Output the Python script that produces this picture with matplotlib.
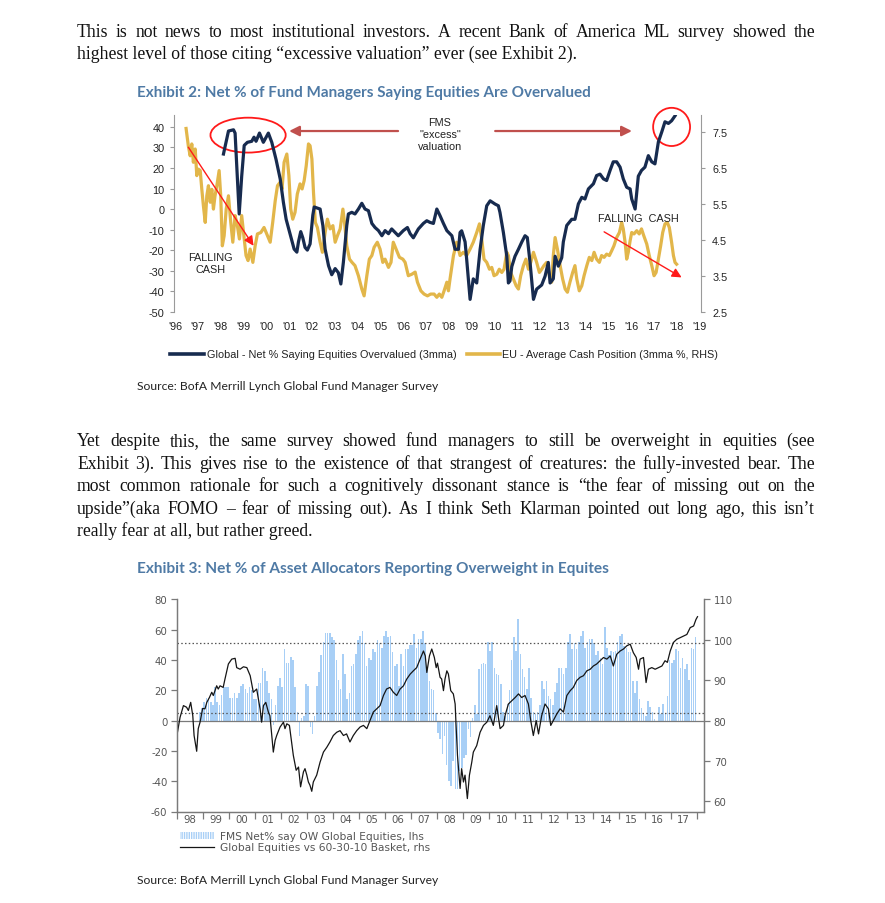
import matplotlib
matplotlib.use("Agg")
import numpy as np
import matplotlib.pyplot as plt
from matplotlib import font_manager
from matplotlib.patches import Ellipse, Rectangle
from matplotlib.lines import Line2D

W, H = 885, 904

# ---------------- page text ----------------
para1 = [
    "This is not news to most institutional investors. A recent Bank of America ML survey showed the",
    "highest level of those citing \u201cexcessive valuation\u201d ever (see Exhibit 2).",
]
para2 = [
    "Yet despite this, the same survey showed fund managers to still be overweight in equities (see",
    "Exhibit 3). This gives rise to the existence of that strangest of creatures: the fully-invested bear. The",
    "most common rationale for such a cognitively dissonant stance is \u201cthe fear of missing out on the",
    "upside\u201d(aka FOMO \u2013 fear of missing out). As I think Seth Klarman pointed out long ago, this isn\u2019t",
    "really fear at all, but rather greed.",
]
title2 = "Exhibit 2: Net % of Fund Managers Saying Equities Are Overvalued"
title3 = "Exhibit 3: Net % of Asset Allocators Reporting Overweight in Equites"
source = "Source: BofA Merrill Lynch Global Fund Manager Survey"

# ---------------- Exhibit 2 data ----------------
years2 = list(range(1996, 2020))
year2_labels = ["'%02d" % (y % 100) for y in years2]
left2_ticks = [40, 30, 20, 10, 0, -10, -20, -30, -40, -50]
right2_ticks = [7.5, 6.5, 5.5, 4.5, 3.5, 2.5]

# Global - net % saying equities overvalued (3mma), lhs
glob = [
    (1998.12, 26.8), (1998.34, 38), (1998.56, 38.6), (1998.63, 37), (1998.81, -2.4),
    (1998.92, 16), (1999.03, 31), (1999.17, 32.5), (1999.36, 33), (1999.46, 35),
    (1999.55, 33), (1999.70, 37), (1999.87, 32.5), (2000.09, 37), (2000.24, 32.5),
    (2000.43, 24), (2000.61, 14.6), (2000.75, 3.2), (2000.87, -5), (2001.04, -12),
    (2001.22, -19.5), (2001.34, -21), (2001.41, -16), (2001.51, -11), (2001.60, -14),
    (2001.70, -18.7), (2001.80, -20), (2001.92, -17), (2002.04, -3), (2002.10, 1),
    (2002.36, 0), (2002.48, -8), (2002.58, -19.5), (2002.73, -27.6), (2002.87, -32),
    (2003.02, -29), (2003.16, -31), (2003.27, -36.5), (2003.38, -26), (2003.53, -8),
    (2003.60, -2.4), (2003.75, -1.6), (2003.89, -2.4), (2004.04, 0), (2004.19, 2.8),
    (2004.33, 0), (2004.48, -0.8), (2004.63, -7), (2004.77, -9), (2004.92, -10.5),
    (2005.07, -13), (2005.21, -10.5), (2005.36, -12), (2005.50, -9.7), (2005.65, -11.4),
    (2005.79, -13), (2006.01, -10.5), (2006.19, -9), (2006.31, -12), (2006.45, -14),
    (2006.67, -9.7), (2006.89, -7), (2007.04, -5.7), (2007.18, -6.5), (2007.33, -7),
    (2007.48, 0), (2007.62, -3.2), (2007.77, -7), (2007.92, -10.5), (2008.14, -13),
    (2008.28, -19.6), (2008.43, -19.6), (2008.50, -11.4), (2008.57, -10.6), (2008.72, -16),
    (2008.79, -24.5), (2008.94, -44), (2009.08, -34), (2009.23, -36), (2009.38, -19.6),
    (2009.52, -8), (2009.67, 1.6), (2009.82, 4), (2010.04, 2.4), (2010.18, 1.6),
    (2010.25, -1.6), (2010.40, -11.4), (2010.55, -23), (2010.62, -36), (2010.69, -35),
    (2010.77, -28), (2010.91, -23), (2011.06, -19.6), (2011.21, -16), (2011.35, -13),
    (2011.45, -13.9), (2011.57, -26), (2011.72, -44), (2011.86, -39), (2012.08, -37),
    (2012.23, -32.7), (2012.37, -26), (2012.45, -36), (2012.59, -34), (2012.67, -23),
    (2012.81, -27.8), (2012.96, -23.7), (2013.03, -16), (2013.18, -8), (2013.40, -5),
    (2013.54, -5), (2013.69, 2.5), (2013.84, 5.7), (2013.98, 4.9), (2014.13, 9.8),
    (2014.35, 12.3), (2014.49, 16.3), (2014.64, 17), (2014.79, 14.7), (2014.93, 13.9),
    (2015.08, 18.8), (2015.22, 23), (2015.37, 23), (2015.52, 20.4), (2015.66, 14.7),
    (2015.81, 10.6), (2015.96, 9.8), (2016.03, 4.9), (2016.18, 0), (2016.25, 8),
    (2016.32, 16), (2016.46, 18.8), (2016.61, 20.4), (2016.76, 26), (2016.91, 23),
    (2017.05, 22), (2017.20, 32.7), (2017.35, 37.6), (2017.49, 42.5), (2017.64, 41.7),
    (2017.78, 43), (2017.93, 45.4),
]

# EU - average cash position (3mma %), rhs
cash = [
    (1996.48, 7.59), (1996.58, 7.10), (1996.66, 6.83), (1996.73, 7.16), (1996.80, 6.65),
    (1996.88, 7.02), (1996.95, 6.28), (1997.02, 6.46), (1997.10, 6.42), (1997.17, 5.90),
    (1997.24, 5.44), (1997.32, 4.98), (1997.39, 5.72), (1997.46, 6.00), (1997.54, 5.54),
    (1997.61, 5.90), (1997.68, 5.35), (1997.75, 5.72), (1997.83, 6.00), (1997.93, 6.42),
    (1998.00, 5.72), (1998.07, 4.33), (1998.15, 4.61), (1998.24, 5.35), (1998.34, 5.72),
    (1998.44, 4.98), (1998.53, 4.43), (1998.63, 5.17), (1998.73, 4.89), (1998.82, 4.52),
    (1998.92, 5.17), (1999.03, 4.52), (1999.11, 4.06), (1999.20, 3.92), (1999.29, 4.24),
    (1999.41, 3.87), (1999.51, 4.33), (1999.61, 4.66), (1999.76, 4.70), (1999.90, 4.84),
    (2000.02, 4.66), (2000.17, 4.43), (2000.28, 4.98), (2000.39, 5.58), (2000.49, 6.00),
    (2000.61, 6.10), (2000.69, 5.91), (2000.78, 6.65), (2000.90, 6.88), (2000.99, 6.28),
    (2001.07, 5.35), (2001.16, 5.07), (2001.26, 5.26), (2001.36, 5.77), (2001.48, 6.05),
    (2001.57, 5.91), (2001.66, 6.14), (2001.75, 6.55), (2001.85, 7.16), (2001.92, 7.11),
    (2002.00, 6.74), (2002.07, 5.81), (2002.15, 4.98), (2002.24, 4.84), (2002.36, 4.43),
    (2002.46, 4.15), (2002.58, 4.70), (2002.68, 5.07), (2002.80, 4.80), (2002.92, 4.89),
    (2003.02, 4.43), (2003.12, 4.61), (2003.24, 4.80), (2003.36, 5.35), (2003.44, 4.93),
    (2003.53, 4.33), (2003.65, 3.96), (2003.76, 3.87), (2003.89, 3.78), (2004.04, 3.50),
    (2004.19, 3.13), (2004.29, 2.94), (2004.41, 3.50), (2004.52, 3.96), (2004.63, 4.06),
    (2004.73, 4.29), (2004.87, 4.43), (2004.99, 4.24), (2005.11, 3.87), (2005.21, 3.96),
    (2005.36, 3.73), (2005.47, 3.87), (2005.57, 4.43), (2005.69, 4.24), (2005.84, 4.01),
    (2005.99, 3.96), (2006.09, 3.87), (2006.23, 3.50), (2006.38, 3.54), (2006.53, 3.60),
    (2006.63, 3.32), (2006.78, 3.08), (2006.92, 2.99), (2007.07, 2.94), (2007.21, 2.99),
    (2007.36, 2.99), (2007.48, 2.90), (2007.59, 2.99), (2007.70, 2.90), (2007.80, 3.08),
    (2007.92, 3.32), (2007.99, 3.08), (2008.06, 3.41), (2008.21, 4.06), (2008.35, 4.43),
    (2008.43, 4.24), (2008.50, 4.06), (2008.64, 4.15), (2008.79, 4.06), (2008.94, 4.24),
    (2009.08, 4.43), (2009.23, 4.70), (2009.35, 4.94), (2009.45, 4.52), (2009.55, 3.96),
    (2009.67, 3.87), (2009.79, 3.68), (2009.89, 3.73), (2009.99, 3.50), (2010.11, 3.54),
    (2010.22, 3.68), (2010.33, 3.59), (2010.43, 3.68), (2010.55, 4.15), (2010.62, 4.06),
    (2010.72, 3.59), (2010.84, 3.41), (2010.96, 3.22), (2011.06, 3.13), (2011.16, 3.50),
    (2011.28, 3.78), (2011.39, 3.96), (2011.50, 3.68), (2011.60, 3.87), (2011.72, 4.15),
    (2011.86, 3.87), (2011.98, 3.59), (2012.08, 3.68), (2012.18, 3.78), (2012.30, 3.87),
    (2012.42, 3.50), (2012.52, 3.32), (2012.59, 4.06), (2012.67, 4.56), (2012.77, 4.24),
    (2012.89, 3.78), (2013.00, 3.41), (2013.11, 3.13), (2013.21, 3.04), (2013.32, 3.32),
    (2013.44, 3.59), (2013.54, 3.78), (2013.62, 3.41), (2013.73, 3.08), (2013.84, 3.22),
    (2013.94, 3.50), (2014.06, 3.78), (2014.17, 4.01), (2014.28, 3.92), (2014.38, 4.15),
    (2014.49, 3.96), (2014.61, 3.87), (2014.71, 4.06), (2014.82, 4.01), (2014.93, 4.10),
    (2015.05, 4.06), (2015.15, 4.19), (2015.25, 4.33), (2015.37, 4.56), (2015.49, 4.70),
    (2015.59, 4.98), (2015.66, 4.80), (2015.74, 4.43), (2015.81, 3.96), (2015.88, 4.15),
    (2015.96, 4.47), (2016.03, 4.70), (2016.13, 4.66), (2016.25, 4.75), (2016.36, 4.66),
    (2016.46, 4.80), (2016.56, 4.61), (2016.69, 4.38), (2016.80, 4.06), (2016.91, 3.78),
    (2017.01, 3.50), (2017.10, 3.59), (2017.20, 3.96), (2017.30, 4.33), (2017.39, 4.70),
    (2017.49, 4.94), (2017.59, 4.98), (2017.68, 4.84), (2017.78, 4.43), (2017.86, 4.06),
    (2017.93, 3.87), (2018.00, 3.82),
]

# ---------------- Exhibit 3 data ----------------
years3 = list(range(1998, 2019))
year3_labels = ["%02d" % (y % 100) for y in range(1998, 2018)]
left3_ticks = [80, 60, 40, 20, 0, -20, -40, -60]
right3_ticks = [110, 100, 90, 80, 70, 60]
band_hi, band_lo = 51, 5   # dotted reference lines, lhs

# FMS net % say overweight global equities, monthly from Nov 1998, lhs
fms_first_month = 10   # months after Jan 1998
fms = [
    5.5, 8,                                                   # 1998
    12, 15, 15, 12, 10, 22, 12, 10, 17, 22, 22, 22,           # 1999
    15, 15, 18, 15, 18, 23, 24, 21, 18, 22, 20, 14,           # 2000
    14, 25, 25, 35, 33, 26, 18, 14, -3, 10, 23, 28,           # 2001
    22, 47, 38, 38, 42, 40, 22, 5.5, -10, 2, 3, 24,           # 2002
    23, -4, -9, 3, 23, 32, 43, 52, 58, 58, 58, 55,            # 2003
    53, 40, 27, 21, 44, 31, 14, 18, 36, 37, 44, 53,           # 2004
    56, 59, 51, 36, 41, 40, 47, 45, 53, 51, 48, 56,           # 2005
    59, 55, 56, 45, 36, 37, 23, 44, 36, 47, 47, 50,           # 2006
    50, 57, 48, 54, 54, 59, 51, 34, 26, 21, 20, 5,            # 2007
    -8, -12, -22, -10, -29, -40, -43, -27, -45, -45, -33, -31,  # 2008
    -25, -23, -5.5, -11, 2, 10, 4, 34, 37, 38, 37, 52,        # 2009
    46, 52, 35, 31, 30, 24, 5.5, 3, 11, 20, 40, 55,           # 2010
    46, 67, 44, 34, 29, 21, 35, 15, 5.5, 4, 5.5, 10,          # 2011
    26, 21, 26, 16, 14, 10, 19, 25, 35, 35, 31, 35,           # 2012
    52, 57, 47, 51, 47, 52, 56, 59, 48, 52, 54, 54,           # 2013
    51, 43, 46, 41, 37, 62, 48, 43, 46, 45, 46, 52,           # 2014
    56, 57, 49, 48, 45, 45, 26, 18, 26, 14, 8, 4,             # 2015
    3, 13, 9, 5.5, 1, -0.7, 9, 4, 11, 4, 16, 40,              # 2016
    38, 40, 47, 46, 35, 41, 34, 37, 27, 48, 47, 55,           # 2017
]

# Global equities vs 60-30-10 basket, rhs
equity = [
    (1998.01, 77.1), (1998.11, 80.8), (1998.24, 83.7), (1998.36, 83.3), (1998.43, 82.5),
    (1998.52, 84.5), (1998.60, 81.2), (1998.65, 76.3), (1998.75, 72.4), (1998.81, 78.0),
    (1998.88, 79.6), (1998.98, 83.0), (1999.07, 82.9), (1999.14, 84.5), (1999.24, 85.7),
    (1999.33, 87.0), (1999.39, 86.2), (1999.52, 88.6), (1999.58, 87.8), (1999.65, 88.6),
    (1999.77, 88.2), (1999.84, 90.3), (1999.97, 94.0), (2000.10, 95.2), (2000.23, 95.4),
    (2000.29, 93.1), (2000.42, 92.7), (2000.55, 93.3), (2000.68, 93.1), (2000.81, 91.1),
    (2000.93, 87.0), (2001.06, 87.8), (2001.19, 82.9), (2001.25, 79.6), (2001.32, 83.7),
    (2001.41, 84.5), (2001.51, 82.1), (2001.57, 81.2), (2001.64, 76.3), (2001.70, 72.2),
    (2001.77, 75.1), (2001.83, 76.3), (2001.96, 78.4), (2002.09, 79.6), (2002.15, 78.0),
    (2002.22, 79.2), (2002.32, 78.8), (2002.37, 76.3), (2002.47, 71.4), (2002.58, 67.7),
    (2002.67, 68.5), (2002.75, 63.6), (2002.86, 67.3), (2002.92, 68.1), (2002.99, 66.5),
    (2003.05, 64.8), (2003.11, 64.0), (2003.18, 62.5), (2003.24, 64.8), (2003.37, 66.5),
    (2003.50, 69.7), (2003.63, 72.2), (2003.76, 73.4), (2003.88, 74.7), (2004.01, 76.3),
    (2004.14, 77.1), (2004.27, 77.5), (2004.40, 76.3), (2004.52, 76.7), (2004.65, 74.7),
    (2004.78, 76.3), (2004.91, 77.5), (2005.04, 78.4), (2005.17, 78.8), (2005.30, 78.0),
    (2005.42, 80.0), (2005.55, 82.1), (2005.68, 82.9), (2005.81, 83.7), (2005.94, 86.2),
    (2006.06, 87.8), (2006.19, 88.2), (2006.32, 87.0), (2006.45, 86.2), (2006.58, 87.8),
    (2006.71, 88.6), (2006.84, 90.3), (2006.97, 91.5), (2007.09, 92.3), (2007.22, 93.1),
    (2007.35, 95.2), (2007.48, 97.2), (2007.55, 96.0), (2007.61, 91.9), (2007.71, 96.0),
    (2007.80, 97.7), (2007.90, 95.6), (2007.97, 93.1), (2008.02, 94.2), (2008.12, 90.7),
    (2008.18, 90.3), (2008.25, 87.4), (2008.31, 90.3), (2008.38, 92.3), (2008.44, 91.5),
    (2008.53, 87.4), (2008.63, 86.6), (2008.70, 84.1), (2008.73, 79.6), (2008.79, 71.4),
    (2008.82, 68.9), (2008.89, 63.2), (2008.95, 68.1), (2009.02, 64.8), (2009.08, 66.5),
    (2009.17, 60.7), (2009.25, 66.5), (2009.34, 69.7), (2009.40, 72.2), (2009.53, 73.8),
    (2009.66, 77.1), (2009.79, 78.8), (2009.92, 79.6), (2010.04, 81.2), (2010.17, 78.8),
    (2010.30, 83.7), (2010.43, 78.0), (2010.56, 78.8), (2010.62, 81.2), (2010.75, 84.1),
    (2010.88, 84.9), (2011.01, 85.7), (2011.14, 86.6), (2011.26, 85.7), (2011.39, 86.2),
    (2011.52, 84.1), (2011.61, 80.0), (2011.71, 76.3), (2011.82, 80.0), (2011.91, 76.7),
    (2012.03, 81.2), (2012.16, 84.1), (2012.29, 82.9), (2012.38, 78.8), (2012.48, 80.0),
    (2012.61, 81.6), (2012.74, 82.9), (2012.87, 82.1), (2013.00, 86.2), (2013.13, 87.4),
    (2013.25, 88.2), (2013.38, 89.9), (2013.51, 90.7), (2013.64, 91.1), (2013.77, 92.3),
    (2013.90, 92.7), (2014.02, 93.5), (2014.15, 94.0), (2014.28, 94.8), (2014.41, 95.6),
    (2014.54, 95.2), (2014.67, 96.0), (2014.79, 93.5), (2014.92, 96.4), (2015.05, 97.2),
    (2015.18, 97.7), (2015.31, 98.5), (2015.44, 98.9), (2015.56, 96.8), (2015.67, 95.6),
    (2015.76, 92.7), (2015.82, 95.2), (2015.95, 95.6), (2016.05, 89.4), (2016.14, 92.7),
    (2016.27, 93.1), (2016.40, 92.7), (2016.53, 93.1), (2016.66, 93.5), (2016.78, 94.8),
    (2016.87, 94.4), (2016.98, 97.2), (2017.10, 99.3), (2017.23, 100.1), (2017.36, 100.5),
    (2017.49, 100.9), (2017.62, 101.3), (2017.75, 103.0), (2017.88, 103.4), (2017.97, 105.0),
    (2018.03, 105.7),
]

# ---------------- style ----------------
NAVY = "#172b4f"
GOLD = "#e2b64a"
TITLE = "#4f7aa5"
BAR = "#a8cff6"
RED = "#ff1a1a"
BROWN = "#c0504d"

names = {f.name for f in font_manager.fontManager.ttflist}
NARROW = "Liberation Sans Narrow" if "Liberation Sans Narrow" in names else "Liberation Sans"
SERIF = "Liberation Serif"
CAL = "Lato" if "Lato" in names else "DejaVu Sans"
WIDE = "DejaVu Sans"

plt.rcParams["hatch.linewidth"] = 1.0
plt.rcParams["axes.unicode_minus"] = False
fig = plt.figure(figsize=(W / 100, H / 100), dpi=100)
renderer = fig.canvas.get_renderer()


def fx(px):
    return px / W


def fy(py):
    return 1 - py / H


def fit_text(x, y, s, width, **kw):
    t = fig.text(fx(x), fy(y), s, fontsize=10, va="baseline", **kw)
    w = t.get_window_extent(renderer).width
    t.set_fontsize(10 * width / w)
    return t


# body text size from the natural (unjustified) width of a short line
probe = fig.text(0, 0, para1[1], fontsize=12, family=SERIF)
body_size = 12 * 498 / probe.get_window_extent(renderer).width
probe.remove()
BODY = dict(family=SERIF, fontsize=body_size, color="#111111", va="baseline")


def paragraph(lines, y0, step, x0=77, x1=815):
    for i, line in enumerate(lines):
        y = y0 + i * step
        if i == len(lines) - 1:
            fig.text(fx(x0), fy(y), line, **BODY)
            continue
        words = line.split(" ")
        arts = [fig.text(0, fy(y), w, **BODY) for w in words]
        widths = [a.get_window_extent(renderer).width for a in arts]
        gap = (x1 - x0 - sum(widths)) / (len(words) - 1)
        x = x0
        for a, w in zip(arts, widths):
            a.set_x(fx(x))
            x += w + gap


paragraph(para1, 37, 21.5)
paragraph(para2, 446, 22.6)

fit_text(137, 96.5, title2, 456, family=CAL, weight="bold", color=TITLE)
fit_text(137, 573.5, title3, 470, family=CAL, weight="bold", color=TITLE)
fit_text(137, 390, source, 301, family=CAL, color="#222222")
fit_text(137, 884, source, 301, family=CAL, color="#222222")

# ---------------- Exhibit 2 ----------------
g = np.array(glob)
c = np.array(cash)
ax2 = fig.add_axes([fx(174), fy(312.7), (701 - 174) / W, (312.7 - 115.6) / H])
ax2r = ax2.twinx()
ax2.set_zorder(ax2r.get_zorder() + 1)
ax2.patch.set_visible(False)

ax2r.plot(c[:, 0], c[:, 1], color=GOLD, lw=2.3, solid_joinstyle="round")
ax2.plot(g[:, 0], g[:, 1], color=NAVY, lw=2.3, solid_joinstyle="round")

ax2.set_xlim(1995.95, 2019.07)
ax2.set_ylim(-50, 46)
ax2r.set_ylim(2.5, 7.975)
ax2.set_xticks(years2)
ax2.set_xticklabels(year2_labels)
ax2.set_yticks(left2_ticks)
ax2r.set_yticks(right2_ticks)
ax2r.set_yticklabels(["%.1f" % v for v in right2_ticks])
for a in (ax2, ax2r):
    for s in ("top", "bottom"):
        a.spines[s].set_visible(False)
    a.spines["left"].set_color("#9a9a9a")
    a.spines["right"].set_color("#9a9a9a")
    a.tick_params(labelsize=7.8, colors="#9a9a9a", labelcolor="#222222", length=3, width=0.8)
    for lab in a.get_xticklabels() + a.get_yticklabels():
        lab.set_family(NARROW)
ax2r.spines["left"].set_visible(False)
ax2.spines["right"].set_visible(False)
ax2.tick_params(axis="x", length=0, pad=6.5)
ax2.tick_params(axis="y", pad=4)
ax2r.tick_params(axis="y", pad=5)

# annotations
ax2.add_patch(Ellipse((1999.2, 36.0), 3.3, 17.0, fill=False, ec=RED, lw=1.3, clip_on=False))
ax2.add_patch(Ellipse((2017.78, 40.0), 1.62, 18.6, fill=False, ec=RED, lw=1.3, clip_on=False))
ax2.text(2007.62, 36.5, 'FMS\n"excess"\nvaluation', ha="center", va="center",
         fontsize=7.8, family=NARROW, linespacing=1.25, color="#222222")
arrow_fms = dict(arrowstyle="-|>", color=BROWN, lw=1.6, mutation_scale=15, shrinkA=0, shrinkB=0)
ax2.annotate("", xy=(2001.0, 38), xytext=(2005.78, 38), arrowprops=arrow_fms)
ax2.annotate("", xy=(2016.04, 38), xytext=(2010.04, 38), arrowprops=arrow_fms)
arrow_cash = dict(arrowstyle="-|>", color=RED, lw=1.0, mutation_scale=14, shrinkA=0, shrinkB=0)
ax2.annotate("", xy=(1999.44, -17.9), xytext=(1996.58, 30.1), arrowprops=arrow_cash)
ax2.annotate("", xy=(2018.22, -33.3), xytext=(2014.82, -11.1), arrowprops=arrow_cash, annotation_clip=False)
ax2.text(1997.57, -26.3, "FALLING\nCASH", ha="center", va="center", fontsize=7.8,
         family=NARROW, linespacing=1.3, color="#222222")
ax2.text(2016.31, -4.4, "FALLING  CASH", ha="center", va="center", fontsize=7.8,
         family=NARROW, color="#222222")

# legend
fig.add_artist(Line2D([fx(170), fx(204)], [fy(355), fy(355)], color=NAVY, lw=2.6))
fit_text(207, 358.5, "Global - Net % Saying Equities Overvalued (3mma)", 250, family=NARROW, color="#222222")
fig.add_artist(Line2D([fx(467), fx(500)], [fy(355), fy(355)], color=GOLD, lw=2.6))
fit_text(502, 358.5, "EU - Average Cash Position (3mma %, RHS)", 216, family=NARROW, color="#222222")

# ---------------- Exhibit 3 ----------------
fms_x = 1998 + (fms_first_month + np.arange(len(fms)) + 0.5) / 12
e = np.array(equity)
ax3 = fig.add_axes([fx(177.2), fy(812.5), (704 - 177.2) / W, (812.5 - 600.3) / H])
ax3r = ax3.twinx()
ax3.bar(fms_x, fms, width=0.06, color=BAR, lw=0, zorder=1)
ax3.axhline(0, color="#7a7a7a", lw=0.9, zorder=2)
for v in (band_hi, band_lo):
    ax3.axhline(v, color="#555555", lw=0.9, ls=(0, (1.2, 1.8)), zorder=2)
ax3r.plot(e[:, 0], e[:, 1], color="#151515", lw=0.9)

ax3.set_xlim(1998.0, 2018.28)
ax3.set_ylim(-60, 80)
ax3r.set_ylim(57.5, 110)
ax3.set_yticks(left3_ticks)
ax3r.set_yticks(right3_ticks)
ax3.set_xticks(years3)
ax3.set_xticklabels([])
ax3.set_xticks(np.arange(1998.5, 2018, 1.0), minor=True)
ax3.set_xticklabels(year3_labels, minor=True)
for a in (ax3, ax3r):
    a.spines["top"].set_visible(False)
    for s in ("left", "right", "bottom"):
        a.spines[s].set_color("#7a7a7a")
        a.spines[s].set_linewidth(0.9)
    a.tick_params(which="both", labelsize=7.3, colors="#7a7a7a", labelcolor="#555555",
                  length=4, width=0.9)
    for lab in a.get_xticklabels(minor=True) + a.get_yticklabels():
        lab.set_family(WIDE)
ax3.tick_params(axis="x", which="major", length=5)
ax3.tick_params(axis="x", which="minor", length=0, pad=1.5)
ax3.tick_params(axis="y", pad=3)
ax3r.tick_params(axis="y", pad=3)

# legend
fig.add_artist(Rectangle((fx(180), fy(840)), 34 / W, 7 / H, facecolor="none",
                         edgecolor=BAR, hatch="|||||||", lw=0))
fig.text(fx(220), fy(840), "FMS Net% say OW Global Equities, lhs", fontsize=7.7,
         family=WIDE, color="#555555", va="baseline")
fig.add_artist(Line2D([fx(180), fx(214)], [fy(848), fy(848)], color="#151515", lw=0.9))
fig.text(fx(220), fy(851.5), "Global Equities vs 60-30-10 Basket, rhs", fontsize=7.7,
         family=WIDE, color="#555555", va="baseline")

fig.savefig("out.png", dpi=100, facecolor="white")
